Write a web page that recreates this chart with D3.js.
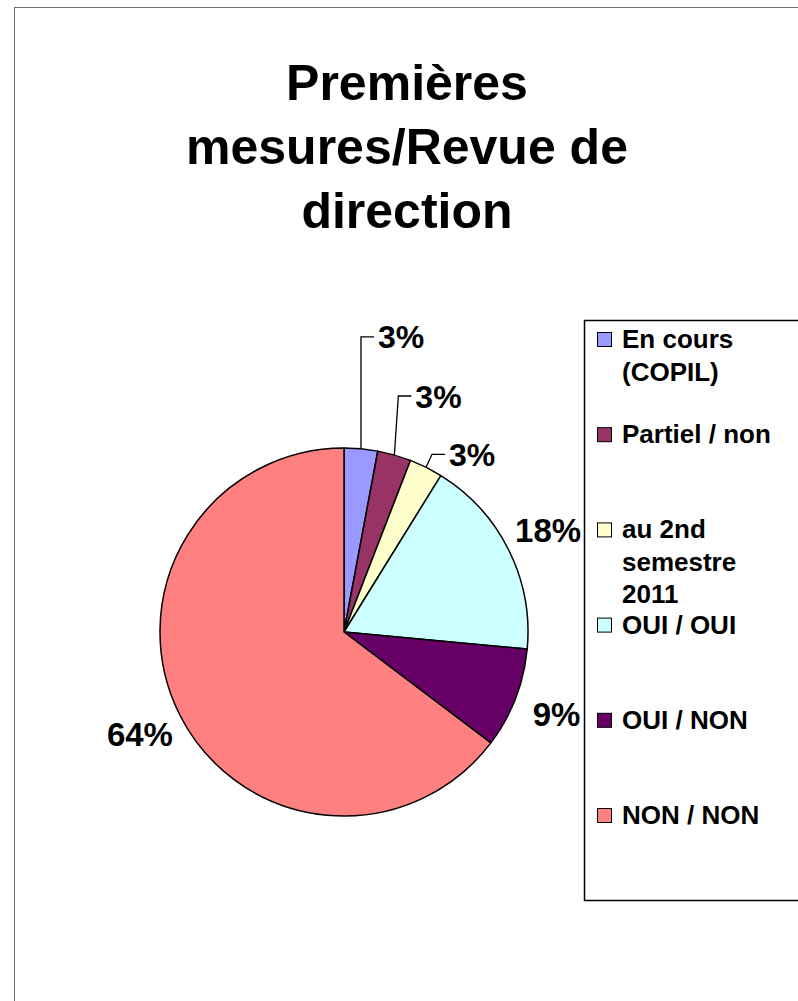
<!DOCTYPE html>
<html>
<head>
<meta charset="utf-8">
<script src="https://cdnjs.cloudflare.com/ajax/libs/d3/7.8.5/d3.min.js"></script>
<style>
  body { margin: 0; background: #fff; }
  svg { display: block; font-family: "Liberation Sans", Arial, sans-serif; font-weight: bold; }
</style>
</head>
<body>
<svg id="chart" width="798" height="1001"></svg>
<script>
// data: counts (1,1,1,6,3,22 of 34)
const categories = ["En cours (COPIL)", "Partiel / non", "au 2nd semestre 2011", "OUI / OUI", "OUI / NON", "NON / NON"]
const values = [1, 1, 1, 6, 3, 22]
// percentages as printed on the chart (excel forces them to sum to 100)
const percentLabels = ["3%", "3%", "3%", "18%", "9%", "64%"]
const colors = ["#9999ff", "#993366", "#ffffcc", "#ccffff", "#660066", "#ff8080"]
// legend text split into lines as in the picture
const legendLines = [["En cours", "(COPIL)"], ["Partiel / non"], ["au 2nd", "semestre", "2011"], ["OUI / OUI"], ["OUI / NON"], ["NON / NON"]]
const titleLines = ["Premières", "mesures/Revue de", "direction"]

// layout
const cx = 344, cy = 632, radius = 184
// the three small slices have dragged labels with leader lines
const leader = [
  {dx: 0, dy: -112, tx: 13},
  {dx: 4, dy: -59, tx: 13},
  {dx: 6, dy: -13, tx: 13}
]

const svg = d3.select("#chart")

// outer frame
svg.append("rect")
  .attr("x", 14.5).attr("y", 7.5)
  .attr("width", 820).attr("height", 1020)
  .attr("fill", "none")
  .attr("stroke", "#6e6e6e")
  .attr("stroke-width", 1)

// title
svg.append("text")
  .attr("text-anchor", "middle")
  .attr("font-size", 50)
  .selectAll("tspan")
  .data(titleLines)
  .join("tspan")
  .attr("x", 407)
  .attr("y", (d, i) => 100 + i * 64)
  .text(d => d)

const pie = d3.pie().sort(null).value(d => d)
const arcs = pie(values)
const arc = d3.arc().innerRadius(0).outerRadius(radius)
const labelArc = d3.arc().innerRadius(228).outerRadius(228)
const edgeArc = d3.arc().innerRadius(radius).outerRadius(radius)

const g = svg.append("g").attr("transform", `translate(${cx},${cy})`)

g.selectAll("path")
  .data(arcs)
  .join("path")
  .attr("d", arc)
  .attr("fill", (d, i) => colors[i])
  .attr("stroke", "#000")
  .attr("stroke-width", 1.5)
  .attr("stroke-linejoin", "round")

// labels
arcs.forEach((d, i) => {
  if (i < 3) {
    const [x0, y0] = edgeArc.centroid(d)
    const L = leader[i]
    const x1 = x0 + L.dx, y1 = y0 + L.dy
    g.append("polyline")
      .attr("points", [[x0, y0], [x1, y1], [x1 + L.tx, y1]].map(p => p.join(",")).join(" "))
      .attr("fill", "none")
      .attr("stroke", "#000")
      .attr("stroke-width", 1.3)
    g.append("text")
      .attr("x", x1 + L.tx + 4)
      .attr("y", y1)
      .attr("dy", "0.36em")
      .attr("font-size", 32)
      .text(percentLabels[i])
  } else {
    const [x, y] = labelArc.centroid(d)
    g.append("text")
      .attr("x", x)
      .attr("y", y)
      .attr("dy", "0.36em")
      .attr("text-anchor", "middle")
      .attr("font-size", 33)
      .text(percentLabels[i])
  }
})

// legend
const lg = svg.append("g")
lg.append("rect")
  .attr("x", 584.5).attr("y", 320.5)
  .attr("width", 240).attr("height", 580)
  .attr("fill", "#fff")
  .attr("stroke", "#000")
  .attr("stroke-width", 1.5)

const y = d3.scalePoint().domain(categories).range([348, 824])

const item = lg.selectAll(".item")
  .data(categories)
  .join("g")
  .attr("class", "item")
  .attr("transform", d => `translate(0,${y(d)})`)

item.append("rect")
  .attr("x", 597.5).attr("y", -15.5)
  .attr("width", 14).attr("height", 14)
  .attr("fill", (d, i) => colors[i])
  .attr("stroke", "#000")
  .attr("stroke-width", 1)

item.append("text")
  .attr("font-size", 26)
  .selectAll("tspan")
  .data((d, i) => legendLines[i])
  .join("tspan")
  .attr("x", 622)
  .attr("y", (d, j) => j * 32.5)
  .text(d => d)
</script>
</body>
</html>
